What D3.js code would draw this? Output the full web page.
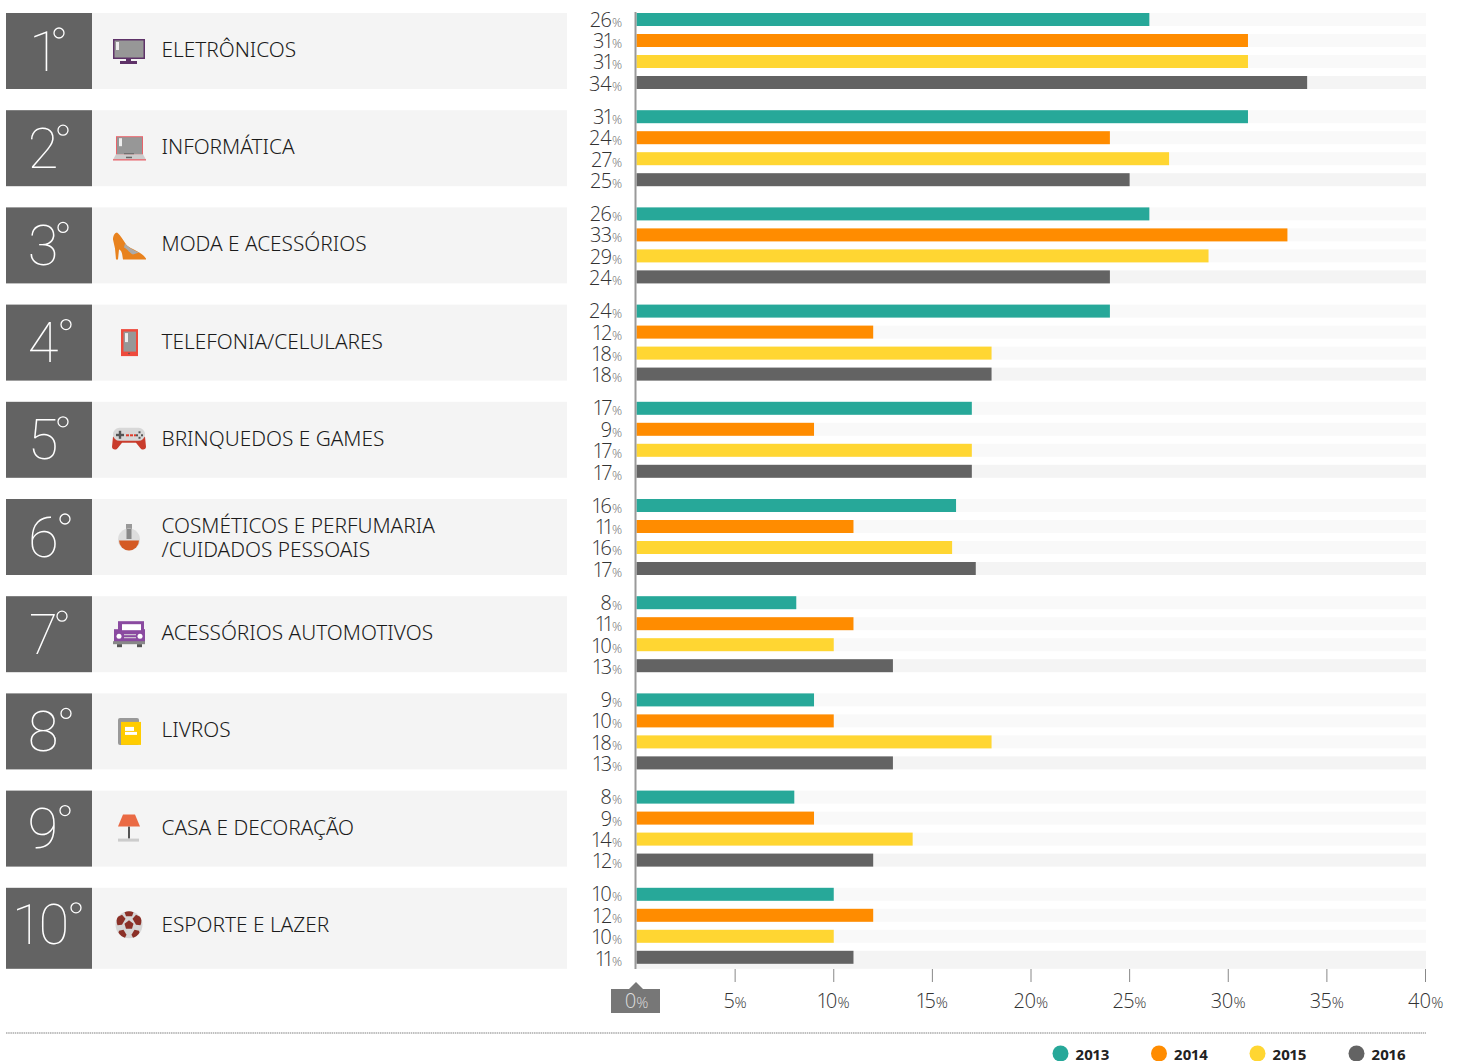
<!DOCTYPE html>
<html lang="pt-BR"><head><meta charset="utf-8">
<script src="https://cdnjs.cloudflare.com/ajax/libs/d3/7.8.5/d3.min.js"></script>
<style>
html,body{margin:0;padding:0;background:#fff;overflow:hidden}
svg{display:block}
text{font-family:"Noto Sans",sans-serif;font-variant-numeric:proportional-nums}
</style></head><body><svg id="c" width="1460" height="1061"></svg>
<script>
const categories=[["ELETRÔNICOS"],["INFORMÁTICA"],["MODA E ACESSÓRIOS"],["TELEFONIA/CELULARES"],["BRINQUEDOS E GAMES"],["COSMÉTICOS E PERFUMARIA","/CUIDADOS PESSOAIS"],["ACESSÓRIOS AUTOMOTIVOS"],["LIVROS"],["CASA E DECORAÇÃO"],["ESPORTE E LAZER"]];
const years=["2013","2014","2015","2016"];
const colors=["#27a899","#ff8c00","#ffd632","#636363"];
const v2013=[26,31,26,24,17,16.2,8.1,9,8,10];
const v2014=[31,24,33,12,9,11,11,10,9,12];
const v2015=[31,27,29,18,17,16,10,18,14,10];
const v2016=[34,25,24,18,17,17.2,13,13,12,11];
const series=[v2013,v2014,v2015,v2016];
const axisTicks=[0,5,10,15,20,25,30,35,40];

const svg=d3.select("#c");
const x=d3.scaleLinear().domain([0,40]).range([636.5,1425.5]);
const rowY=d3.scaleBand().domain(d3.range(10)).range([13,985]);
const rowH=76;
const barY=d3.scaleBand().domain(years).range([0,rowH]).paddingInner(8/21);
const labelY=d3.scalePoint().domain(years).range([13.6,77.8]);
const LIGHT='"Open Sans"';

const rows=svg.selectAll("g.row").data(categories).join("g").attr("class","row")
  .attr("transform",(d,i)=>`translate(0,${rowY(i)})`);
rows.append("rect").attr("x",92).attr("width",475).attr("height",(d,i)=>i===9?81:rowH).attr("fill","#f4f4f4");
rows.append("rect").attr("x",6).attr("width",86).attr("height",(d,i)=>i===9?81:rowH).attr("fill","#636363");
rows.append("text").attr("x",(d,i)=>i===9?41.5:43).attr("y",(d,i)=>i===9?56:57.5).attr("text-anchor","middle")
  .attr("fill","#fff").style("font-family","Roboto").style("font-weight",100).style("font-size","56px")
  .text((d,i)=>i+1);
rows.append("circle").attr("cx",(d,i)=>[59,63,63,66,63,65,62,66,65,76][i]).attr("cy",20).attr("r",5)
  .attr("fill","none").attr("stroke","#fff").attr("stroke-width",1.3);
rows.each(function(d){
  const t=d3.select(this).append("text").attr("x",161.5).attr("fill","#1a1a1a").style("font-size","20.8px").style("font-weight",300);
  const y0=d.length===1?44:33.5;
  d.forEach((s,k)=>t.append("tspan").attr("x",161.5).attr("y",y0+k*24).text(s));
});

/* icons */
const ic=(i)=>rows.filter((d,k)=>k===i).append("g").attr("transform","translate(129,38)");
function R(g,x,y,w,h,f,extra){const r=g.append("rect").attr("x",x).attr("y",y).attr("width",w).attr("height",h).attr("fill",f);if(extra)r.attr("rx",extra);return r;}
function P(g,d,f){return g.append("path").attr("d",d).attr("fill",f);}
function C(g,x,y,r,f){return g.append("circle").attr("cx",x).attr("cy",y).attr("r",r).attr("fill",f);}
let g=ic(0);R(g,-16,-12,32,20,"#5e3268");R(g,-14.5,-10.5,29,17,"#979797");R(g,-13,-9,3,8,"#eee");R(g,-3,8,5,2,"#5e3268");R(g,-9,10,17,3,"#5e3268");
g=ic(1);R(g,-13,-12,27,19,"#e8636a");R(g,-12,-11,25,17,"#979797");R(g,-10,-10,3,8,"#eee");P(g,"M-13,6L14,6L17,11.5L-16,11.5Z","#ccc");R(g,-16,11,33,1.3,"#e8636a");R(g,-3,8.5,6,1.5,"#666");R(g,-5,5,10,1,"#666");
g=ic(2);P(g,"M-16,-6C-16,-10 -14,-13 -12,-13C-8,-10 -5,-4 -2,0C3,4 12,6 17,13L17,14L-6,14L-7,8C-8,5 -9,4 -10,4L-11,14L-13,14L-14,3Z","#e8821e");P(g,"M-4,-2C-1,2 5,5 10,7L4,9C1,8 -1,4 -5,2Z","#aaa");
g=ic(3);R(g,-8,-13.5,17,27,"#ee4a3c");R(g,-5.5,-11,12.5,20,"#979797");R(g,-4,-9.5,3,9,"#eee");P(g,"M0,10l1,1l-1,1l-1,-1Z","#555");
g=ic(4);P(g,"M-16,-3L16,-3L17,7C17,10 13,11 11,8L7,3L-7,3L-11,8C-13,11 -17,10 -17,7Z","#c93c2c");R(g,-16,-12,32,13,"#d8d8d8",6.5);R(g,-13,-6,8,2.4,"#555");R(g,-10.2,-9,2.4,8,"#555");R(g,-3,-5.5,3,2,"#e03c2c");R(g,1,-5.5,3,2,"#e03c2c");R(g,5,-5.5,2,2,"#e03c2c");R(g,9.5,-8.5,2,2,"#555");R(g,7,-5.5,2,2,"#555");R(g,12,-5.5,2,2,"#555");R(g,9.5,-3,2,2,"#555");
g=ic(5);R(g,-3,-13,6,5,"#999");C(g,0,2.5,11,"#ddd");P(g,"M-10,3.5A10,10 0 0 0 10,3.5Z","#d45a24");R(g,-2.5,-8,5,10,"#888");
g=ic(6);R(g,-11,-13,26,14,"#8a4aa0");R(g,-15,-5,31,13,"#8a4aa0");R(g,-7,-10,19,6,"#fff");C(g,-10,2,2.5,"#fff");C(g,11,2,2.5,"#fff");R(g,-5,0,12,1,"#ddd");R(g,-5,3,12,1,"#ddd");R(g,-16,7,32,3,"#888");R(g,-12,10,5,3,"#555");R(g,8,10,5,3,"#555");
g=ic(7);R(g,-11,-13.5,21,27,"#999",2);R(g,-8,-9.5,20,23,"#ffcc00");R(g,-4,-4.5,9,4,"#fff");R(g,-4,0.5,12,3,"#fff");
g=ic(8);P(g,"M-6,-14L6,-14L11,-2L-11,-2Z","#ea6a44");R(g,-1,-2,2,12,"#555");R(g,-11,10,21,3,"#ccc");
g=ic(9);C(g,0,-1,13.5,"#d6d6d6");
P(g,"M0,-5.5L4.5,-2L3,3L-3,3L-4.5,-2Z","#8b3027");
P(g,"M-4.5,-13.5Q0,-15.5 4.5,-13.5L3,-9.5L-3,-9.5Z","#8b3027");
P(g,"M-7,-11L-3.5,-7L-7,-1L-11.5,-0.5Q-13.5,-6 -11,-9Z","#8b3027");
P(g,"M7,-11L3.5,-7L7,-1L11.5,-0.5Q13.5,-6 11,-9Z","#8b3027");
P(g,"M-10,5L-5.5,4L-2.5,9L-4,12Q-8,11 -10.5,7Z","#8b3027");
P(g,"M10,5L5.5,4L2.5,9L4,12Q8,11 10.5,7Z","#8b3027");

/* bars */
const groups=svg.selectAll("g.grp").data(categories).join("g").attr("class","grp")
  .attr("transform",(d,i)=>`translate(0,${rowY(i)})`);
groups.each(function(_,i){
  const G=d3.select(this);
  const data=years.map((y,k)=>({y,k,v:series[k][i]}));
  G.selectAll("rect.track").data(data).join("rect").attr("class","track")
    .attr("x",x(0)).attr("y",d=>barY(d.y)).attr("width",x(40)-x(0)+0.5)
    .attr("height",d=>(i===9&&d.k===3)?18:barY.bandwidth())
    .attr("fill",d=>d.k===3?"#f4f4f4":"#f9f9f9");
  G.selectAll("rect.bar").data(data).join("rect").attr("class","bar")
    .attr("x",x(0)).attr("y",d=>barY(d.y)).attr("width",d=>x(d.v)-x(0)).attr("height",barY.bandwidth())
    .attr("fill",d=>colors[d.k]);
  const L=G.selectAll("text.val").data(data).join("text").attr("class","val")
    .attr("x",622).attr("y",d=>labelY(d.y)).attr("text-anchor","end").attr("fill","#333")
    .style("font-family",LIGHT).style("font-weight",300);
  L.append("tspan").style("font-size","20px").text(d=>Math.round(d.v));
  L.append("tspan").style("font-size","12.5px").attr("fill","#666").text("%");
});

/* axis */
svg.append("line").attr("x1",635.5).attr("x2",635.5).attr("y1",12).attr("y2",969).attr("stroke","#999").attr("stroke-width",2);
svg.append("rect").attr("x",611).attr("y",989).attr("width",49).attr("height",24).attr("fill","#777");
svg.append("path").attr("d","M629,989L636,982L643,989Z").attr("fill","#777");
const ax=svg.append("g").attr("transform","translate(-0.5,969)").call(d3.axisBottom(x).tickValues(axisTicks).tickSize(13).tickFormat(""));
ax.select(".domain").remove();
ax.selectAll(".tick line").attr("stroke","#888").attr("stroke-width",1).filter(d=>d===0).remove();
const tl=ax.selectAll(".tick text").attr("y",39).attr("dy",0).attr("fill",d=>d===0?"#ddd":"#333")
  .style("font-family",LIGHT).style("font-weight",300).style("font-size","20px");
tl.text(null).each(function(d){
  const t=d3.select(this);
  t.append("tspan").text(d);
  t.append("tspan").style("font-size","15px").text("%");
});

svg.append("line").attr("x1",6).attr("x2",1426).attr("y1",1033).attr("y2",1033).attr("stroke","#aaa").attr("stroke-width",1.6).attr("stroke-dasharray","1.5 0.7");

/* legend */
const lg=d3.scaleOrdinal().domain(years).range([1060.5,1159,1257.5,1356.5]);
const li=svg.selectAll("g.lg").data(years).join("g").attr("class","lg").attr("transform",y=>`translate(${lg(y)},0)`);
li.append("circle").attr("cy",1053.5).attr("r",8).attr("fill",(y,i)=>colors[i]);
li.append("text").attr("x",15).attr("y",1060).attr("fill","#222").style("font-size","15px").style("font-weight",700).text(y=>y);
</script></body></html>
